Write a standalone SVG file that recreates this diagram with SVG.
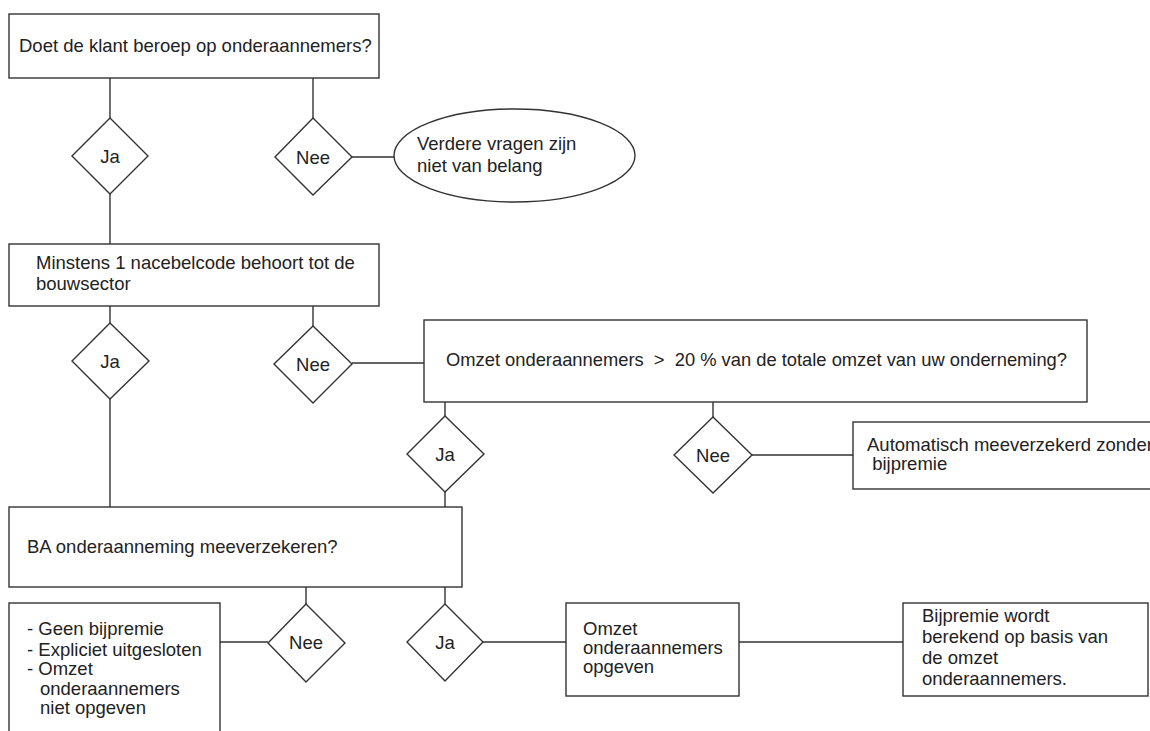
<svg xmlns="http://www.w3.org/2000/svg" width="1150" height="731" viewBox="0 0 1150 731">
<style>
.box{fill:#fff;stroke:#333;stroke-width:1.4}
.con{fill:none;stroke:#333;stroke-width:1.4}
text{font-family:"Liberation Sans",Arial,sans-serif;font-size:18.5px;fill:#222}
.c{text-anchor:middle}
</style>
<rect width="1150" height="731" fill="#fff"/>
<g id="connectors">
<path class="con" d="M110,78V118M110,194V244M110,306V323M110,399V508"/>
<path class="con" d="M313,78V118M352,157H394"/>
<path class="con" d="M313,306V326M352,363H424"/>
<path class="con" d="M445,402V416M445,492V508"/>
<path class="con" d="M713,402V417M752,455H853"/>
<path class="con" d="M306,587V604M268,642H220"/>
<path class="con" d="M445,587V604M483,642H566M739,642H903"/>
</g>
<g id="q1"><rect class="box" x="9" y="14" width="370" height="64"/><text x="19" y="52">Doet de klant beroep op onderaannemers?</text></g>
<g id="ja1"><polygon class="box" points="110,118 148,156 110,194 72,156"/><text class="c" x="110" y="163">Ja</text></g>
<g id="nee1"><polygon class="box" points="313,118 352,157 313,195 275,157"/><text class="c" x="313" y="164">Nee</text></g>
<g id="end1"><ellipse class="box" cx="514.5" cy="155.5" rx="120.5" ry="46.5"/><text x="417" y="150">Verdere vragen zijn</text><text x="417" y="172">niet van belang</text></g>
<g id="q2"><rect class="box" x="9" y="244" width="370" height="62"/><text x="36" y="269">Minstens 1 nacebelcode behoort tot de</text><text x="36" y="290">bouwsector</text></g>
<g id="ja2"><polygon class="box" points="110,323 149,361 110,399 72,361"/><text class="c" x="110" y="368">Ja</text></g>
<g id="nee2"><polygon class="box" points="313,326 352,364 313,403 274,364"/><text class="c" x="313" y="371">Nee</text></g>
<g id="q3"><rect class="box" x="424" y="320" width="663" height="82"/><text x="446" y="366" textLength="621" lengthAdjust="spacingAndGlyphs" xml:space="preserve">Omzet onderaannemers  &gt;  20 % van de totale omzet van uw onderneming?</text></g>
<g id="ja3"><polygon class="box" points="445,416 484,454 445,492 407,454"/><text class="c" x="445" y="461">Ja</text></g>
<g id="nee3"><polygon class="box" points="713,417 752,455 713,493 674,455"/><text class="c" x="713" y="462">Nee</text></g>
<g id="auto"><rect class="box" x="853" y="422" width="320" height="67"/><text x="867" y="451">Automatisch meeverzekerd zonder</text><text x="867" y="470" xml:space="preserve"> bijpremie</text></g>
<g id="q4"><rect class="box" x="9" y="507" width="453" height="80"/><text x="27" y="553">BA onderaanneming meeverzekeren?</text></g>
<g id="nee4"><polygon class="box" points="306,604 345,643 306,682 268,643"/><text class="c" x="306" y="649">Nee</text></g>
<g id="ja4"><polygon class="box" points="445,604 483,642 445,681 407,642"/><text class="c" x="445" y="649">Ja</text></g>
<g id="excl"><rect class="box" x="9" y="603" width="211" height="150"/><text x="27" y="635">- Geen bijpremie</text><text x="27" y="656">- Expliciet uitgesloten</text><text x="27" y="675">- Omzet</text><text x="40" y="695">onderaannemers</text><text x="40" y="714">niet opgeven</text></g>
<g id="opgeven"><rect class="box" x="566" y="603" width="173" height="93"/><text x="583" y="635">Omzet</text><text x="583" y="654">onderaannemers</text><text x="583" y="673">opgeven</text></g>
<g id="bijpremie"><rect class="box" x="903" y="603" width="245" height="93"/><text x="922" y="622">Bijpremie wordt</text><text x="922" y="643">berekend op basis van</text><text x="922" y="664">de omzet</text><text x="922" y="685">onderaannemers.</text></g>
</svg>
